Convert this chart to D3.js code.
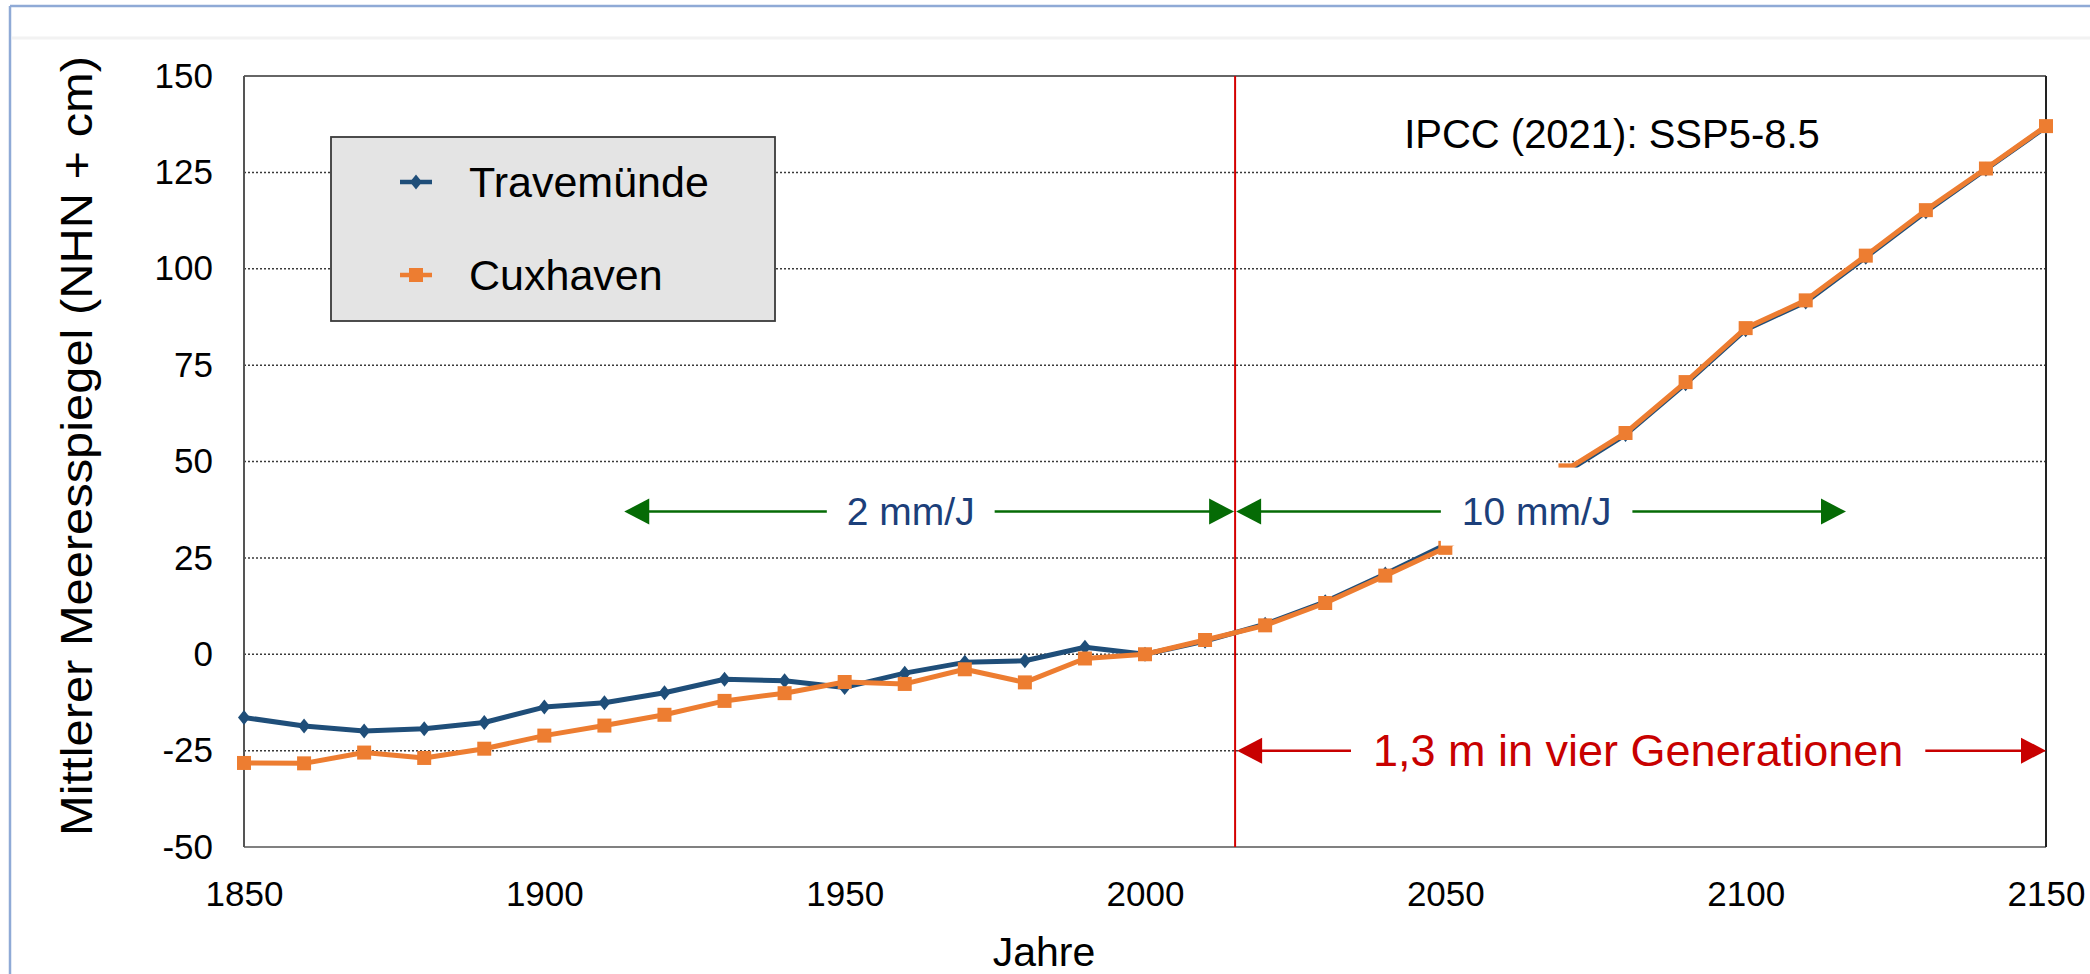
<!DOCTYPE html>
<html><head><meta charset="utf-8">
<script src="https://cdn.jsdelivr.net/npm/d3@7/dist/d3.min.js"></script>
<style>
body{margin:0;background:#fff;}
svg{display:block;}
text{font-family:"Liberation Sans", Arial, sans-serif;}
</style>
</head><body>
<svg id="chart" width="2090" height="974"></svg>
<script>
// ---- data ----
const years = [1850,1860,1870,1880,1890,1900,1910,1920,1930,1940,1950,1960,1970,1980,1990,2000,2010,
               2020,2030,2040,2050,2060,2070,2080,2090,2100,2110,2120,2130,2140,2150];
const travemuende = [-16.4,-18.6,-19.9,-19.3,-17.7,-13.7,-12.6,-10.0,-6.5,-6.9,-8.6,-4.9,-2.1,-1.7,1.8,0,3.4,
                     7.8,13.6,20.8,28.4,37.6,47.2,57.0,70.2,84.2,91.4,103.0,114.8,125.8,136.8];
const cuxhaven = [-28.2,-28.3,-25.5,-26.9,-24.5,-21.1,-18.5,-15.7,-12.1,-10.1,-7.2,-7.7,-3.9,-7.3,-1.1,0,3.7,
                  7.5,13.3,20.4,27.6,37.4,47.7,57.4,70.6,84.6,91.8,103.4,115.2,126.0,137.0];
const seriesNames = ["Travemünde","Cuxhaven"];
const yTicks = [-50,-25,0,25,50,75,100,125,150];
const xTicks = [1850,1900,1950,2000,2050,2100,2150];
const splitYear = 2015;
const scenarioLabel = "IPCC (2021): SSP5-8.5";
const rateLabels = ["2 mm/J","10 mm/J"];
const riseLabel = "1,3 m in vier Generationen";
const xTitle = "Jahre";
const yTitle = "Mittlerer Meeresspiegel (NHN + cm)";

// ---- setup ----
const svg = d3.select("#chart");
const x = d3.scaleLinear().domain([1850,2150]).range([244,2046]);
const y = d3.scaleLinear().domain([-50,150]).range([847,76]);
const blue = "#1f4e79", orange = "#ed7d31", green = "#056b05", red = "#c80000", navy = "#1c3f7a";

// outer frame
svg.append("line").attr("x1",10).attr("x2",2090).attr("y1",6).attr("y2",6).attr("stroke","#8faad6").attr("stroke-width",2.5);
svg.append("line").attr("x1",10).attr("x2",10).attr("y1",6).attr("y2",974).attr("stroke","#8faad6").attr("stroke-width",2.5);
svg.append("line").attr("x1",12).attr("x2",2090).attr("y1",38).attr("y2",38).attr("stroke","#f2f2f2").attr("stroke-width",3);

// gridlines
svg.append("g").selectAll("line").data(yTicks.filter(d=>d>-50 && d<150)).join("line")
  .attr("x1",x(1850)).attr("x2",x(2150)).attr("y1",d=>y(d)).attr("y2",d=>y(d))
  .attr("stroke","#3a3a3a").attr("stroke-width",1.5).attr("stroke-dasharray","2,2");

// plot frame
svg.append("line").attr("x1",x(1850)).attr("x2",x(2150)).attr("y1",y(150)).attr("y2",y(150)).attr("stroke","#666").attr("stroke-width",2);
svg.append("line").attr("x1",x(1850)).attr("x2",x(2150)).attr("y1",y(-50)).attr("y2",y(-50)).attr("stroke","#808080").attr("stroke-width",2);
svg.append("line").attr("x1",x(1850)).attr("x2",x(1850)).attr("y1",y(150)).attr("y2",y(-50)).attr("stroke","#555").attr("stroke-width",2);
svg.append("line").attr("x1",x(2150)).attr("x2",x(2150)).attr("y1",y(150)).attr("y2",y(-50)).attr("stroke","#222").attr("stroke-width",2);

// axes
const yAxis = svg.append("g").attr("transform",`translate(${x(1850)},0)`)
  .call(d3.axisLeft(y).tickValues(yTicks).tickSize(0).tickPadding(31).tickFormat(d=>String(d)));
const xAxis = svg.append("g").attr("transform",`translate(0,${y(-50)})`)
  .call(d3.axisBottom(x).tickValues(xTicks).tickSize(0).tickPadding(34).tickFormat(d=>String(d)));
[yAxis,xAxis].forEach(g=>{
  g.select(".domain").remove();
  g.selectAll("text").attr("font-size",35).attr("fill","#000").style("font-family",'"Liberation Sans", Arial, sans-serif');
});

// split line
svg.append("line").attr("x1",x(splitYear)).attr("x2",x(splitYear)).attr("y1",y(150)).attr("y2",y(-50))
  .attr("stroke","#d40000").attr("stroke-width",2);

// series
const diamond = "M0,-7.5L6,0L0,7.5L-6,0Z";
const series = [
  {name:seriesNames[0], values:travemuende, color:blue, marker:diamond},
  {name:seriesNames[1], values:cuxhaven, color:orange, marker:"M-7,-7H7V7H-7Z"}
];
const line = d3.line().x((d,i)=>x(years[i])).y(d=>y(d));
series.forEach(s=>{
  const g = svg.append("g");
  g.append("path").attr("d",line(s.values)).attr("fill","none").attr("stroke",s.color)
    .attr("stroke-width",5).attr("stroke-linejoin","round");
  g.selectAll("path.m").data(s.values).join("path").attr("class","m")
    .attr("transform",(d,i)=>`translate(${x(years[i])},${y(d)})`)
    .attr("d",s.marker).attr("fill",s.color);
});

// annotations
function arrowHead(g, tipX, yy, dir, color){
  const L = 25, H = 13;
  g.append("path").attr("d",`M${tipX},${yy}L${tipX-dir*L},${yy-H}L${tipX-dir*L},${yy+H}Z`).attr("fill",color);
}
function labelWithBox(g, cx, cy, txt, size, color, padX, top, bottom){
  const t = g.append("text").attr("x",cx).attr("y",cy).attr("text-anchor","middle")
    .attr("dominant-baseline","central").attr("font-size",size).attr("fill",color).text(txt);
  const bb = t.node().getBBox();
  g.insert("rect","text").attr("x",bb.x-padX).attr("width",bb.width+2*padX)
    .attr("y",cy-top).attr("height",top+bottom).attr("fill","#fff");
}
const ann = svg.append("g");
const rateLevel = 37;
ann.append("line").attr("x1",x(1913.3)+20).attr("x2",x(splitYear)-20).attr("y1",y(rateLevel)).attr("y2",y(rateLevel)).attr("stroke",green).attr("stroke-width",2.5);
arrowHead(ann, x(1913.3), y(rateLevel), -1, green);
arrowHead(ann, x(splitYear)-1, y(rateLevel), 1, green);
ann.append("line").attr("x1",x(splitYear)+20).attr("x2",x(2116.7)-20).attr("y1",y(rateLevel)).attr("y2",y(rateLevel)).attr("stroke",green).attr("stroke-width",2.5);
arrowHead(ann, x(splitYear)+1, y(rateLevel), -1, green);
arrowHead(ann, x(2116.7), y(rateLevel), 1, green);
labelWithBox(ann.append("g"), x(1961), y(rateLevel), rateLabels[0], 39, navy, 20, 44, 34);
labelWithBox(ann.append("g"), x(2065.2), y(rateLevel), rateLabels[1], 39, navy, 21, 44, 34);
ann.append("line").attr("x1",x(splitYear)+20).attr("x2",x(2150)-20).attr("y1",y(-25)).attr("y2",y(-25)).attr("stroke",red).attr("stroke-width",2.5);
arrowHead(ann, x(splitYear)+2, y(-25), -1, red);
arrowHead(ann, x(2150), y(-25), 1, red);
labelWithBox(ann.append("g"), x(2082.1), y(-25), riseLabel, 45, red, 22, 30, 30);

// scenario label
svg.append("text").attr("x",1612).attr("y",y(135)).attr("text-anchor","middle").attr("dominant-baseline","central")
  .attr("font-size",40).attr("fill","#000").text(scenarioLabel);

// legend
const lg = svg.append("g");
lg.append("rect").attr("x",331).attr("y",137).attr("width",444).attr("height",184)
  .attr("fill","#e4e4e4").attr("stroke","#3a3a3a").attr("stroke-width",1.8);
series.forEach((s,i)=>{
  const cy = 182 + i*93;
  lg.append("line").attr("x1",400).attr("x2",432).attr("y1",cy).attr("y2",cy).attr("stroke",s.color).attr("stroke-width",4.5);
  lg.append("path").attr("transform",`translate(416,${cy})`).attr("d",s.marker).attr("fill",s.color);
  lg.append("text").attr("x",469).attr("y",cy).attr("dominant-baseline","central").attr("font-size",43).attr("fill","#000").text(s.name);
});

// axis titles
svg.append("text").attr("x",1044).attr("y",966).attr("text-anchor","middle").attr("font-size",41).attr("fill","#000").text(xTitle);
svg.append("text").attr("transform","translate(76,446) rotate(-90)").attr("text-anchor","middle")
  .attr("dominant-baseline","central").attr("font-size",44).attr("textLength",780).attr("lengthAdjust","spacingAndGlyphs")
  .attr("fill","#000").text(yTitle);
</script>
</body></html>
